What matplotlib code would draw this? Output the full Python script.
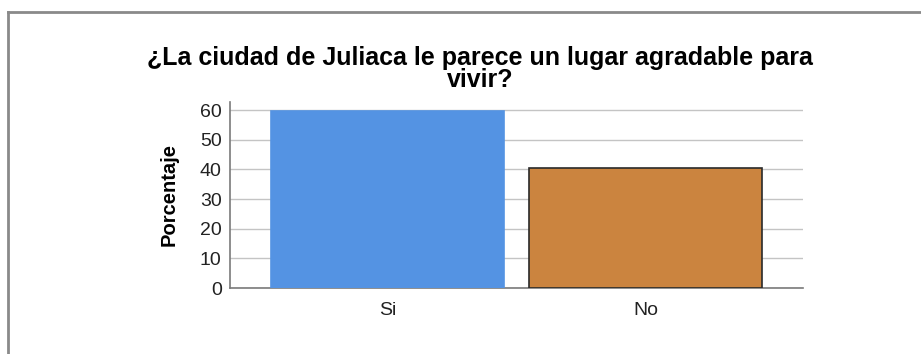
import matplotlib.pyplot as plt
from matplotlib.lines import Line2D

categorias = ['Si', 'No']
porcentaje = [59.7, 40.3]
colores = ['#5493e3', '#cb843f']
bordes = ['#5493e3', '#2a2a2a']

plt.rcParams['font.family'] = ['Liberation Sans', 'DejaVu Sans']

fig = plt.figure(figsize=(9.21, 3.54), dpi=100)
ax = fig.add_axes([0.2497, 0.1864, 0.6222, 0.5263])

x = range(len(categorias))
ax.bar(x, porcentaje, width=0.9, color=colores, edgecolor=bordes, linewidth=1.2, zorder=3)

ax.set_xlim(-0.61, 1.61)
ax.set_ylim(0, 62.8)
ax.set_yticks([0, 10, 20, 30, 40, 50, 60])
ax.set_xticks(list(x))
ax.set_xticklabels(categorias)
ax.tick_params(axis='both', length=0, labelsize=14, colors='#222222')
ax.tick_params(axis='y', pad=6)
ax.tick_params(axis='x', pad=10)

ax.yaxis.grid(True, color='#c4c4c4', linewidth=1, zorder=0)
ax.set_axisbelow(True)
for s in ['top', 'right']:
    ax.spines[s].set_visible(False)
ax.spines['left'].set_color('#7a7a7a')
ax.spines['bottom'].set_color('#7a7a7a')
ax.spines['left'].set_linewidth(1.2)
ax.spines['bottom'].set_linewidth(1.2)

ax.set_ylabel('Porcentaje', fontsize=14.5, fontweight='bold', labelpad=15)
fig.text(0.521, 0.805, '¿La ciudad de Juliaca le parece un lugar agradable para\nvivir?',
         ha='center', va='center', fontsize=18, fontweight='bold', linespacing=0.88)

# marco del grafico
fig.add_artist(Line2D([0.0087, 0.0087], [0, 0.965], color='#8a8a8a', linewidth=2))
fig.add_artist(Line2D([0.0087, 1.0], [0.965, 0.965], color='#8a8a8a', linewidth=2))

fig.savefig('out.png', dpi=100)
